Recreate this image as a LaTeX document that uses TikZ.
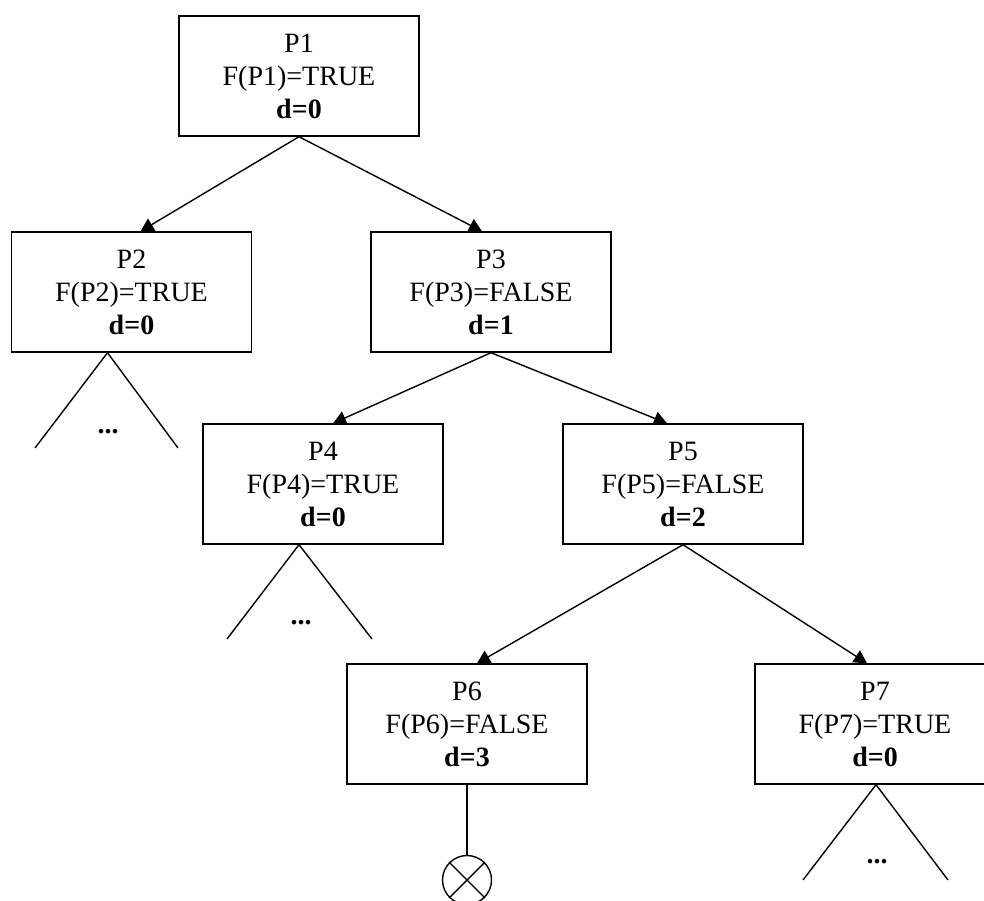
\documentclass[tikz,border=0pt]{standalone}
\usepackage{fontspec}
\setmainfont{Liberation Serif}
\usetikzlibrary{arrows.meta,calc}
\begin{document}
\begin{tikzpicture}[x=1pt,y=-1pt,
  pbox/.style={draw, line width=1.4pt, minimum width=240pt, minimum height=120pt, inner sep=0pt, align=center, font=\fontsize{28}{33}\selectfont},
  edge/.style={line width=1.4pt, -{Triangle[length=13pt,width=14pt]}},
  sub/.style={line width=1.4pt},
  dots/.style={font=\fontsize{28}{33}\selectfont\bfseries}]
\useasboundingbox (0,0) rectangle (984,900);
\clip (0,0) rectangle (984,900);
\node[pbox] (p1) at (299,76) {P1\\F(P1)=TRUE\\\textbf{d=0}};
\node[pbox] (p2) at (131.5,292) {P2\\F(P2)=TRUE\\\textbf{d=0}};
\node[pbox] (p3) at (491,292) {P3\\F(P3)=FALSE\\\textbf{d=1}};
\node[pbox] (p4) at (323,484) {P4\\F(P4)=TRUE\\\textbf{d=0}};
\node[pbox] (p5) at (683,484) {P5\\F(P5)=FALSE\\\textbf{d=2}};
\node[pbox] (p6) at (467,724) {P6\\F(P6)=FALSE\\\textbf{d=3}};
\node[pbox] (p7) at (875,724) {P7\\F(P7)=TRUE\\\textbf{d=0}};
% arrows
\draw[edge] (p1.south) -- ($(p2.north)+(9,0)$);
\draw[edge] (p1.south) -- ($(p3.north)+(-9,0)$);
\draw[edge] (p3.south) -- ($(p4.north)+(10,0)$);
\draw[edge] (p3.south) -- ($(p5.north)+(-16,0)$);
\draw[edge] (p5.south) -- ($(p6.north)+(10,0)$);
\draw[edge] (p5.south) -- ($(p7.north)+(-8,0)$);
% subtrees
\coordinate (a2) at ($(p2.south)+(-24,0)$);
\coordinate (l2) at (35,448);
\coordinate (r2) at (178,448);
\draw[sub] (l2) -- (a2) -- (r2);
\node[dots] (d2) at (108,432) {...};
\coordinate (a4) at ($(p4.south)+(-24,0)$);
\coordinate (l4) at (227,639);
\coordinate (r4) at (372,639);
\draw[sub] (l4) -- (a4) -- (r4);
\node[dots] (d4) at (301,623) {...};
\coordinate (a7) at ($(p7.south)+(1,0)$);
\coordinate (l7) at (803,880);
\coordinate (r7) at (948,880);
\draw[sub] (l7) -- (a7) -- (r7);
\node[dots] (d7) at (877,862) {...};
% terminal
\node[draw, circle, line width=1.4pt, minimum size=49pt, inner sep=0pt] (x6) at (467,880) {};
\draw[sub] (p6.south) -- (x6.north);
\draw[sub] (x6.north west) -- (x6.south east);
\draw[sub] (x6.north east) -- (x6.south west);
\end{tikzpicture}
\end{document}
